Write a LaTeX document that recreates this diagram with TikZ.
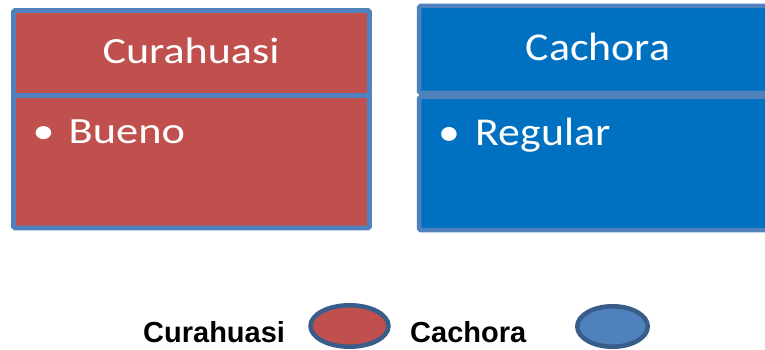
\documentclass[tikz,border=0pt]{standalone}
\usepackage{fontspec}
\setmainfont{Carlito}
\newfontfamily\legendfont{Liberation Sans}
\usepackage{graphicx}
\usetikzlibrary{shapes.geometric}
\definecolor{boxred}{HTML}{C0504D}
\definecolor{boxblue}{HTML}{0070C0}
\definecolor{edgeblue}{HTML}{4F81BD}
\definecolor{darkedge}{HTML}{385D8A}
\definecolor{lightblue}{HTML}{4F81BD}
\tikzset{
  panel/.style={draw=edgeblue, line width=4.8pt, rounded corners=1.5pt},
  wtext/.style={text=white, inner sep=0pt, anchor=base},
  ltext/.style={text=black, inner sep=0pt, anchor=base west, font=\legendfont\bfseries\fontsize{29}{34}\selectfont},
  key/.style={ellipse, draw=darkedge, line width=4.5pt, inner sep=0pt}
}
\newcommand{\lfs}{\fontsize{37}{44}\selectfont}
\newcommand{\rfs}{\fontsize{39.5}{47}\selectfont}
\begin{document}
\begin{tikzpicture}[x=1pt,y=-1pt]
\useasboundingbox (0,0) rectangle (765,350);
\clip (0,0) rectangle (765,350);
% left panel
\draw[panel, fill=boxred] (13.5,95.5) rectangle (369.5,228);
\draw[panel, fill=boxred] (13.5,10.5) rectangle (369.5,95.5);
\node[wtext] (lt) at (191,64) {\lfs\scalebox{1.19}[1]{Curahuasi}};
\node[wtext] (lb) at (43.5,143) {\lfs\scalebox{1.19}[1]{•}};
\node[wtext, anchor=base west] (li) at (68.5,143) {\lfs\scalebox{1.2}[1]{Bueno}};
% right panel
\draw[panel, line width=4.5pt, fill=boxblue] (419,97) rectangle (780,230);
\draw[panel, line width=4.5pt, fill=boxblue] (419,6) rectangle (780,93);
\node[wtext] (rt) at (598,61) {\rfs\scalebox{1.11}[1]{Cachora}};
\node[wtext] (rb) at (449,146) {\rfs\scalebox{1.11}[1]{•}};
\node[wtext, anchor=base west] (ri) at (475.5,146) {\rfs\scalebox{1.11}[1]{Regular}};
% legend
\node[ltext] (k1) at (143,342) {Curahuasi};
\node[key, fill=boxred, minimum width=78pt, minimum height=41.5pt] (e1) at (349.5,326) {};
\node[ltext] (k2) at (410,342) {Cachora};
\node[key, fill=lightblue, minimum width=70.5pt, minimum height=40.5pt] (e2) at (612.5,326.5) {};
\end{tikzpicture}
\end{document}
